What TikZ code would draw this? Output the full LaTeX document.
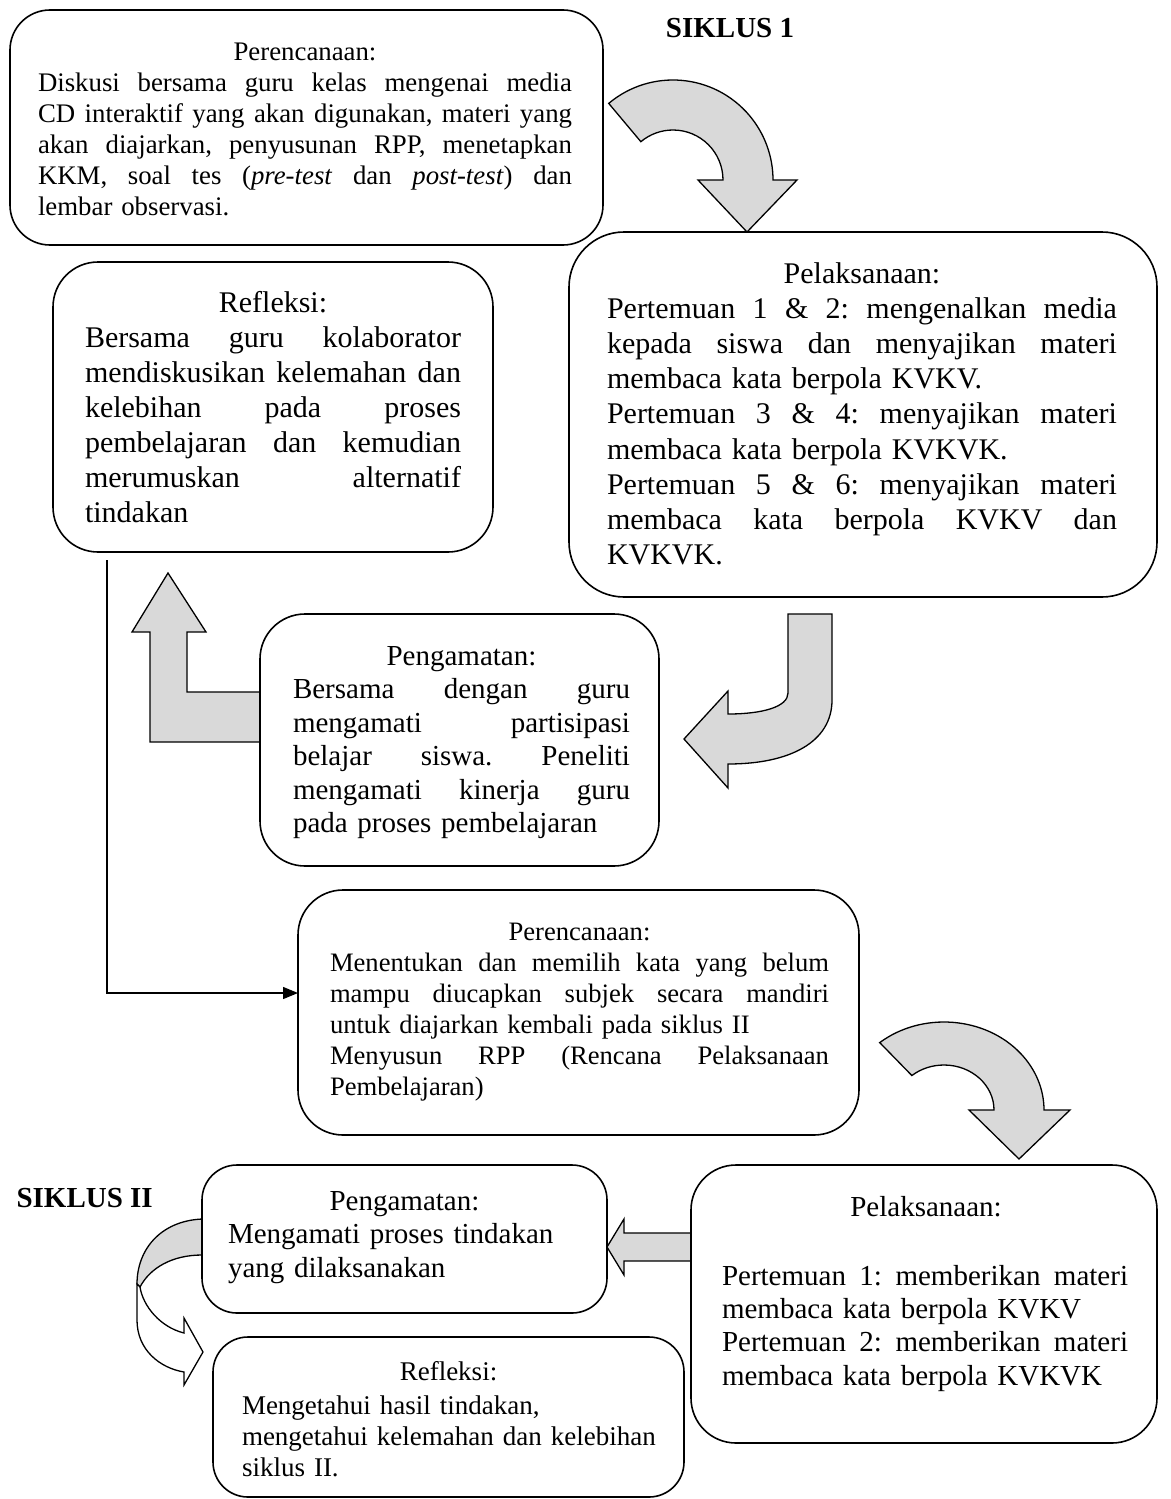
\documentclass[tikz,border=0pt]{standalone}
\usepackage{fontspec}
\setmainfont{Liberation Serif}
\usetikzlibrary{arrows.meta}
\newcommand\jl[1]{\leavevmode\hbox to\hsize{\spaceskip=.25em plus 1fil\xspaceskip=.25em plus 1fil\relax#1}}
\newcommand\hd[1]{\leavevmode\hbox to\hsize{\hfil#1\hfil}}
\frenchspacing
\begin{document}
\begin{tikzpicture}[x=1pt,y=-1pt,
  box/.style={draw=black,line width=1.6pt,rounded corners=#1,fill=white,inner sep=0pt,outer sep=0pt},
  txt/.style={inner sep=0pt,outer sep=0pt,anchor=base west},
  hdr/.style={inner sep=0pt,outer sep=0pt,anchor=base},
  shp/.style={draw=black,line width=1.3pt,fill=black!15,line join=miter},
  shpw/.style={draw=black,line width=1.3pt,fill=white,line join=miter},
  conn/.style={draw=black,line width=1.4pt,-{Triangle[length=15pt,width=12pt]}},
  title/.style={inner sep=0pt,font=\bfseries\fontsize{29}{34}\selectfont}]
\fill[white] (0,0) rectangle (1170,1499);
\useasboundingbox (0,0) rectangle (1170,1499);

% block arrows
\draw[shp] (673,180) ++(230:100) arc[start angle=230,end angle=360,radius=100]
  -- (797,180) -- (747,232) -- (698,180) -- (723,180)
  arc[start angle=360,end angle=230,radius=50] -- cycle;
\draw[shp] (944,1110) ++(230:100 and 88) arc[start angle=230,end angle=360,x radius=100,y radius=88]
  -- (1070,1110) -- (1019,1159) -- (969,1110) -- (994,1110)
  arc[start angle=360,end angle=230,x radius=50,y radius=45] -- cycle;
\draw[shp] (788,614) -- (832,614) -- (832,700) .. controls (832,742) and (790,764) .. (728,764)
  -- (728,788) -- (684,739) -- (728,691) -- (728,714) .. controls (762,714) and (788,707) .. (788,693) -- cycle;
\draw[shp] (168,573) -- (206,632) -- (187,632) -- (187,692) -- (260,692) -- (260,742)
  -- (150,742) -- (150,632) -- (132,632) -- cycle;
\draw[shp] (691,1233) -- (624,1233) -- (624,1219) -- (607,1247) -- (624,1275) -- (624,1261) -- (691,1261) -- cycle;
\draw[shp] (202,1219) .. controls (160,1221) and (137,1250) .. (137,1284) -- (140,1287)
  .. controls (150,1268) and (172,1255) .. (202,1255) -- cycle;

% boxes
\node[box=40pt,minimum width=593pt,minimum height=235pt] (b1) at (306.5,127.5) {};
\node[box=55pt,minimum width=588pt,minimum height=365pt] (b2) at (863,414.5) {};
\node[box=45pt,minimum width=440pt,minimum height=290pt] (b3) at (273,407) {};
\node[box=45pt,minimum width=399pt,minimum height=252pt] (b4) at (459.5,740) {};
\node[box=45pt,minimum width=561pt,minimum height=245pt] (b5) at (578.5,1012.5) {};
\node[box=45pt,minimum width=466pt,minimum height=278pt] (b6) at (924,1304) {};
\node[box=35pt,minimum width=405pt,minimum height=148pt] (b7) at (404.5,1239) {};
\node[box=35pt,minimum width=471pt,minimum height=160pt] (b8) at (448.5,1417) {};

% curved arrow of siklus II, front part
\draw[shpw] (137,1284) -- (137,1320) .. controls (137,1350) and (160,1368) .. (184,1372)
  -- (184,1385) -- (203,1352) -- (184,1318) -- (184,1333)
  .. controls (160,1327) and (143,1306) .. (140,1287) -- cycle;

% connector
\coordinate (e0) at (107,560);
\coordinate (e1) at (107,993);
\draw[conn] (e0) -- (e1) -- (e1 -| b5.west);

% texts
\node[title] (s1) at (730,28) {SIKLUS 1};
\node[title,anchor=base east] (s2) at (153,1207) {SIKLUS II};

\node[txt,text width=534pt,font=\fontsize{26.8}{31}\selectfont] (t1) at (38,60)
 {\hd{Perencanaan:}\\
  \jl{Diskusi bersama guru kelas mengenai media}\\
  \jl{CD interaktif yang akan digunakan, materi yang}\\
  \jl{akan diajarkan, penyusunan RPP, menetapkan}\\
  \jl{KKM, soal tes (\textit{pre-test} dan \textit{post-test}) dan}\\
  lembar observasi.};

\node[txt,text width=510pt,font=\fontsize{30}{35.2}\selectfont] (t2) at (607,283)
 {\hd{Pelaksanaan:}\\
  \jl{Pertemuan 1 \& 2: mengenalkan media}\\
  \jl{kepada siswa dan menyajikan materi}\\
  membaca kata berpola KVKV.\\
  \jl{Pertemuan 3 \& 4: menyajikan materi}\\
  membaca kata berpola KVKVK.\\
  \jl{Pertemuan 5 \& 6: menyajikan materi}\\
  \jl{membaca kata berpola KVKV dan}\\
  KVKVK.};

\node[txt,text width=376pt,font=\fontsize{30}{35}\selectfont] (t3) at (85,312)
 {\hd{Refleksi:}\\
  \jl{Bersama guru kolaborator}\\
  \jl{mendiskusikan kelemahan dan}\\
  \jl{kelebihan pada proses}\\
  \jl{pembelajaran dan kemudian}\\
  \jl{merumuskan alternatif}\\
  tindakan};

\node[txt,text width=337pt,font=\fontsize{29}{33.5}\selectfont] (t4) at (293,665)
 {\hd{Pengamatan:}\\
  \jl{Bersama dengan guru}\\
  \jl{mengamati partisipasi}\\
  \jl{belajar siswa. Peneliti}\\
  \jl{mengamati kinerja guru}\\
  pada proses pembelajaran};

\node[txt,text width=499pt,font=\fontsize{26.6}{31}\selectfont] (t5) at (330,940)
 {\hd{Perencanaan:}\\
  \jl{Menentukan dan memilih kata yang belum}\\
  \jl{mampu diucapkan subjek secara mandiri}\\
  untuk diajarkan kembali pada siklus II\\
  \jl{Menyusun RPP (Rencana Pelaksanaan}\\
  Pembelajaran)};

\node[hdr,font=\fontsize{29}{33}\selectfont] (t6h) at (926,1216) {Pelaksanaan:};
\node[txt,text width=406pt,font=\fontsize{29}{33.4}\selectfont] (t6) at (722,1285)
 {\jl{Pertemuan 1: memberikan materi}\\
  membaca kata berpola KVKV\\
  \jl{Pertemuan 2: memberikan materi}\\
  membaca kata berpola KVKVK};

\node[hdr,font=\fontsize{29}{33}\selectfont] (t7h) at (404.5,1210) {Pengamatan:};
\node[txt,text width=360pt,font=\fontsize{29}{34}\selectfont] (t7) at (228,1243)
 {Mengamati proses tindakan\\
  yang dilaksanakan};

\node[hdr,font=\fontsize{27}{31}\selectfont] (t8h) at (448.5,1380) {Refleksi:};
\node[txt,text width=430pt,font=\fontsize{27}{31}\selectfont] (t8) at (242,1414)
 {Mengetahui hasil tindakan,\\
  mengetahui kelemahan dan kelebihan\\
  siklus II.};
\end{tikzpicture}
\end{document}
